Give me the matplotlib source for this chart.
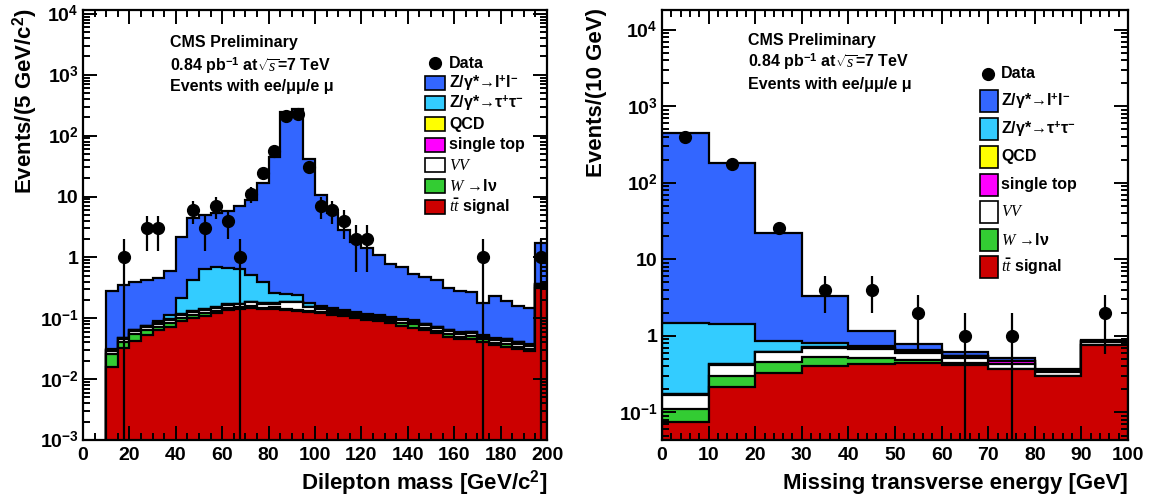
import numpy as np
import matplotlib.pyplot as plt
from matplotlib.patches import Rectangle
from matplotlib.lines import Line2D
from matplotlib.ticker import MultipleLocator, LogLocator, FixedLocator, FixedFormatter, NullFormatter

plt.rcParams['font.family'] = ['Liberation Sans', 'DejaVu Sans']
plt.rcParams['font.weight'] = 'bold'
plt.rcParams['mathtext.fontset'] = 'custom'
plt.rcParams['mathtext.rm'] = 'Liberation Sans:bold'
plt.rcParams['mathtext.bf'] = 'Liberation Sans:bold'
plt.rcParams['mathtext.it'] = 'Liberation Serif:style=italic:weight=normal'

# ---- dilepton mass, 5 GeV bins from 10 to 200 ----
mll_edges = np.arange(10, 205, 5)
mll_ttbar = [0.016, 0.033, 0.043, 0.053, 0.063, 0.072, 0.089, 0.10, 0.11, 0.12,
             0.135, 0.14, 0.15, 0.14, 0.14, 0.135, 0.13, 0.125, 0.12, 0.115,
             0.11, 0.10, 0.095, 0.09, 0.083, 0.075, 0.07, 0.063, 0.057, 0.05,
             0.046, 0.046, 0.041, 0.036, 0.034, 0.031, 0.029, 0.32]
mll_wjets = [0.010, 0.008, 0.012, 0.012, 0.010, 0.011, 0.013, 0.014, 0.012, 0.014,
             0.015, 0.013, 0.012, 0.010, 0.011, 0.009, 0.008, 0.006, 0.007, 0.005,
             0.006, 0.007, 0.005, 0.006, 0.007, 0.008, 0.010, 0.006, 0.005, 0.006,
             0.004, 0.005, 0.004, 0.003, 0.004, 0.003, 0.002, 0.015]
mll_vv = [0.003, 0.004, 0.006, 0.007, 0.009, 0.010, 0.012, 0.013, 0.014, 0.016,
          0.017, 0.016, 0.020, 0.022, 0.020, 0.040, 0.045, 0.020, 0.016, 0.014,
          0.012, 0.011, 0.010, 0.010, 0.009, 0.009, 0.008, 0.008, 0.007, 0.006,
          0.006, 0.006, 0.005, 0.005, 0.005, 0.004, 0.004, 0.020]
mll_stop = [0.001, 0.002, 0.002, 0.002, 0.003, 0.003, 0.003, 0.004, 0.004, 0.004,
            0.004, 0.004, 0.004, 0.004, 0.004, 0.004, 0.004, 0.004, 0.004, 0.004,
            0.003, 0.003, 0.003, 0.003, 0.003, 0.003, 0.003, 0.003, 0.002, 0.002,
            0.002, 0.002, 0.002, 0.002, 0.002, 0.002, 0.002, 0.004]
mll_qcd = [0.0] * 38
mll_tautau = [0.001, 0.001, 0.002, 0.002, 0.004, 0.017, 0.10, 0.30, 0.51, 0.53,
              0.50, 0.48, 0.32, 0.22, 0.085, 0.06, 0.05, 0.02, 0.012, 0.008,
              0.006, 0.005, 0.004, 0.003, 0.003, 0.002, 0.002, 0.002, 0.002, 0.001,
              0.001, 0.001, 0.001, 0.001, 0.001, 0.001, 0.001, 0.005]
mll_dy = [0.25, 0.31, 0.33, 0.35, 0.37, 0.48, 1.91, 3.97, 4.25, 4.62,
          5.13, 6.25, 8.29, 16.6, 43.7, 240.7, 273.8, 41.8, 10.24, 5.15,
          2.66, 1.65, 1.33, 0.97, 0.685, 0.61, 0.447, 0.388, 0.347, 0.245,
          0.221, 0.21, 0.127, 0.183, 0.144, 0.119, 0.112, 1.34]
mll_data_x = [17.5, 27.5, 32.5, 47.5, 52.5, 57.5, 62.5, 67.5, 72.5, 77.5, 82.5,
              87.5, 92.5, 97.5, 102.5, 107.5, 112.5, 117.5, 122.5, 172.5, 197.5]
mll_data_n = [1, 3, 3, 6, 3, 7, 4, 1, 11, 24, 57, 208, 230, 31, 7, 6, 4, 2, 2, 1, 1]

# ---- missing transverse energy, 10 GeV bins ----
met_edges = np.arange(0, 110, 10)
met_ttbar = [0.076, 0.217, 0.33, 0.40, 0.43, 0.44, 0.42, 0.37, 0.30, 0.76]
met_wjets = [0.034, 0.083, 0.13, 0.13, 0.09, 0.05, 0.02, 0.005, 0.003, 0.01]
met_vv = [0.06, 0.12, 0.15, 0.17, 0.16, 0.11, 0.07, 0.06, 0.04, 0.06]
met_stop = [0.002, 0.004, 0.01, 0.02, 0.02, 0.03, 0.03, 0.03, 0.01, 0.02]
met_qcd = [0.0] * 10
met_tautau = [1.3, 1.0, 0.25, 0.09, 0.04, 0.02, 0.01, 0.01, 0.005, 0.005]
met_dy = [453, 180, 21.1, 2.5, 0.43, 0.13, 0.07, 0.04, 0.01, 0.02]
met_data_x = [5, 15, 25, 35, 45, 55, 65, 75, 95]
met_data_n = [400, 175, 26, 4, 4, 2, 1, 1, 2]

stack_colors = ['#cc0000', '#33cc33', '#ffffff', '#ff00ff', '#ffff00', '#33ccff', '#3366ff']
legend_labels = ['Z/γ*→l$^{+}$l$^{-}$', 'Z/γ*→τ$^{+}$τ$^{-}$', 'QCD', 'single top',
                 '$VV$', '$W$ →lν', r'$t\bar{t}$ signal']
legend_colors = ['#3366ff', '#33ccff', '#ffff00', '#ff00ff', '#ffffff', '#33cc33', '#cc0000']

W, H = 1150, 497
fig = plt.figure(figsize=(W / 100, H / 100), dpi=100)


def px(x, y):
    return x / W, 1 - y / H


def draw_panel(ax, edges, comps, data_x, data_n, ymin):
    cum = np.zeros(len(edges) - 1)
    levels = []
    for c in comps:
        cum = cum + np.array(c)
        levels.append(cum.copy())
    for lvl, col in reversed(list(zip(levels, stack_colors))):
        ax.stairs(lvl, edges, baseline=ymin * 1e-3, fill=True, facecolor=col, edgecolor='none')
        ax.stairs(lvl, edges, baseline=ymin * 1e-3, fill=False, color='black', lw=1.6)
    n = np.array(data_n, dtype=float)
    err = np.sqrt(n)
    lo = n - np.maximum(n - err, ymin * 1e-3)
    ax.errorbar(data_x, n, yerr=[lo, err], fmt='o', color='black', ms=8.5,
                elinewidth=1.6, capsize=0, zorder=5)
    ax.set_yscale('log')
    ax.tick_params(which='both', direction='in', top=True, right=True, width=1.4,
                   labelsize=14)
    ax.tick_params(which='major', length=10)
    ax.tick_params(which='minor', length=5)
    ax.tick_params(axis='x', pad=5)
    ax.tick_params(axis='y', pad=3)
    ax.yaxis.set_minor_locator(LogLocator(base=10, subs=np.arange(2, 10), numticks=20))
    ax.yaxis.set_minor_formatter(NullFormatter())
    for s in ax.spines.values():
        s.set_linewidth(1.6)


def draw_legend(x_box, w_box, h_box, x_text, y_data, ys, x_marker):
    fig.add_artist(Line2D([x_marker / W], [1 - y_data / H], marker='o', color='black',
                          ms=8.5, transform=fig.transFigure))
    fig.text(x_text / W, 1 - y_data / H, 'Data', fontsize=11.5, va='center')
    for y, lab, col in zip(ys, legend_labels, legend_colors):
        fig.add_artist(Rectangle(px(x_box, y + h_box / 2), w_box / W, h_box / H,
                                 facecolor=col, edgecolor='black', lw=1.2,
                                 transform=fig.transFigure))
        fig.text(x_text / W, 1 - y / H, lab, fontsize=11.5, va='center')


# left panel
ax1 = fig.add_axes([83 / W, 57 / H, 464 / W, 430 / H])
draw_panel(ax1, mll_edges,
           [mll_ttbar, mll_wjets, mll_vv, mll_stop, mll_qcd, mll_tautau, mll_dy],
           mll_data_x, mll_data_n, 1e-3)
ax1.set_xlim(0, 200)
ax1.set_ylim(1e-3, 1.16e4)
ax1.xaxis.set_major_locator(MultipleLocator(20))
ax1.xaxis.set_minor_locator(MultipleLocator(5))
ax1.yaxis.set_major_locator(FixedLocator([1e-3, 1e-2, 1e-1, 1, 10, 1e2, 1e3, 1e4]))
ax1.yaxis.set_major_formatter(FixedFormatter(
    ['$10^{-3}$', '$10^{-2}$', '$10^{-1}$', '1', '10', '$10^{2}$', '$10^{3}$', '$10^{4}$']))

# right panel
ax2 = fig.add_axes([662 / W, 57 / H, 466 / W, 430 / H])
draw_panel(ax2, met_edges,
           [met_ttbar, met_wjets, met_vv, met_stop, met_qcd, met_tautau, met_dy],
           met_data_x, met_data_n, 0.0437)
ax2.set_xlim(0, 100)
ax2.set_ylim(0.0437, 1.82e4)
ax2.xaxis.set_major_locator(MultipleLocator(10))
ax2.xaxis.set_minor_locator(MultipleLocator(2))
ax2.yaxis.set_major_locator(FixedLocator([1e-1, 1, 10, 1e2, 1e3, 1e4]))
ax2.yaxis.set_major_formatter(FixedFormatter(
    ['$10^{-1}$', '1', '10', '$10^{2}$', '$10^{3}$', '$10^{4}$']))

# axis titles
fig.text(547 / W, 1 - 483 / H, 'Dilepton mass [GeV/c$^{2}$]', fontsize=16, ha='right', va='center')
fig.text(1128 / W, 1 - 483 / H, 'Missing transverse energy [GeV]', fontsize=16, ha='right', va='center')
fig.text(25 / W, 1 - 8 / H, 'Events/(5 GeV/c$^{2}$)', fontsize=16, rotation=90, ha='center', va='top')
fig.text(596 / W, 1 - 8 / H, 'Events/(10 GeV)', fontsize=16, rotation=90, ha='center', va='top')

# CMS labels
for x0, ys in [(170, (43, 65, 87)), (748, (40, 62, 85))]:
    fig.text(x0 / W, 1 - ys[0] / H, 'CMS Preliminary', fontsize=11.5, va='center')
    fig.text(x0 / W, 1 - ys[1] / H, r'0.84 pb$^{-1}$ at$\sqrt{s}$=7 TeV', fontsize=11.5, va='center')
    fig.text(x0 / W, 1 - ys[2] / H, 'Events with ee/μμ/e μ', fontsize=11.5, va='center')

draw_legend(425, 20, 14, 449, 63, [83, 103, 124, 145, 165, 186, 207], 435)
draw_legend(980, 18, 22, 1001, 74, [101, 129, 157, 185, 212, 240, 267], 988)

fig.savefig('out.png', dpi=100)
